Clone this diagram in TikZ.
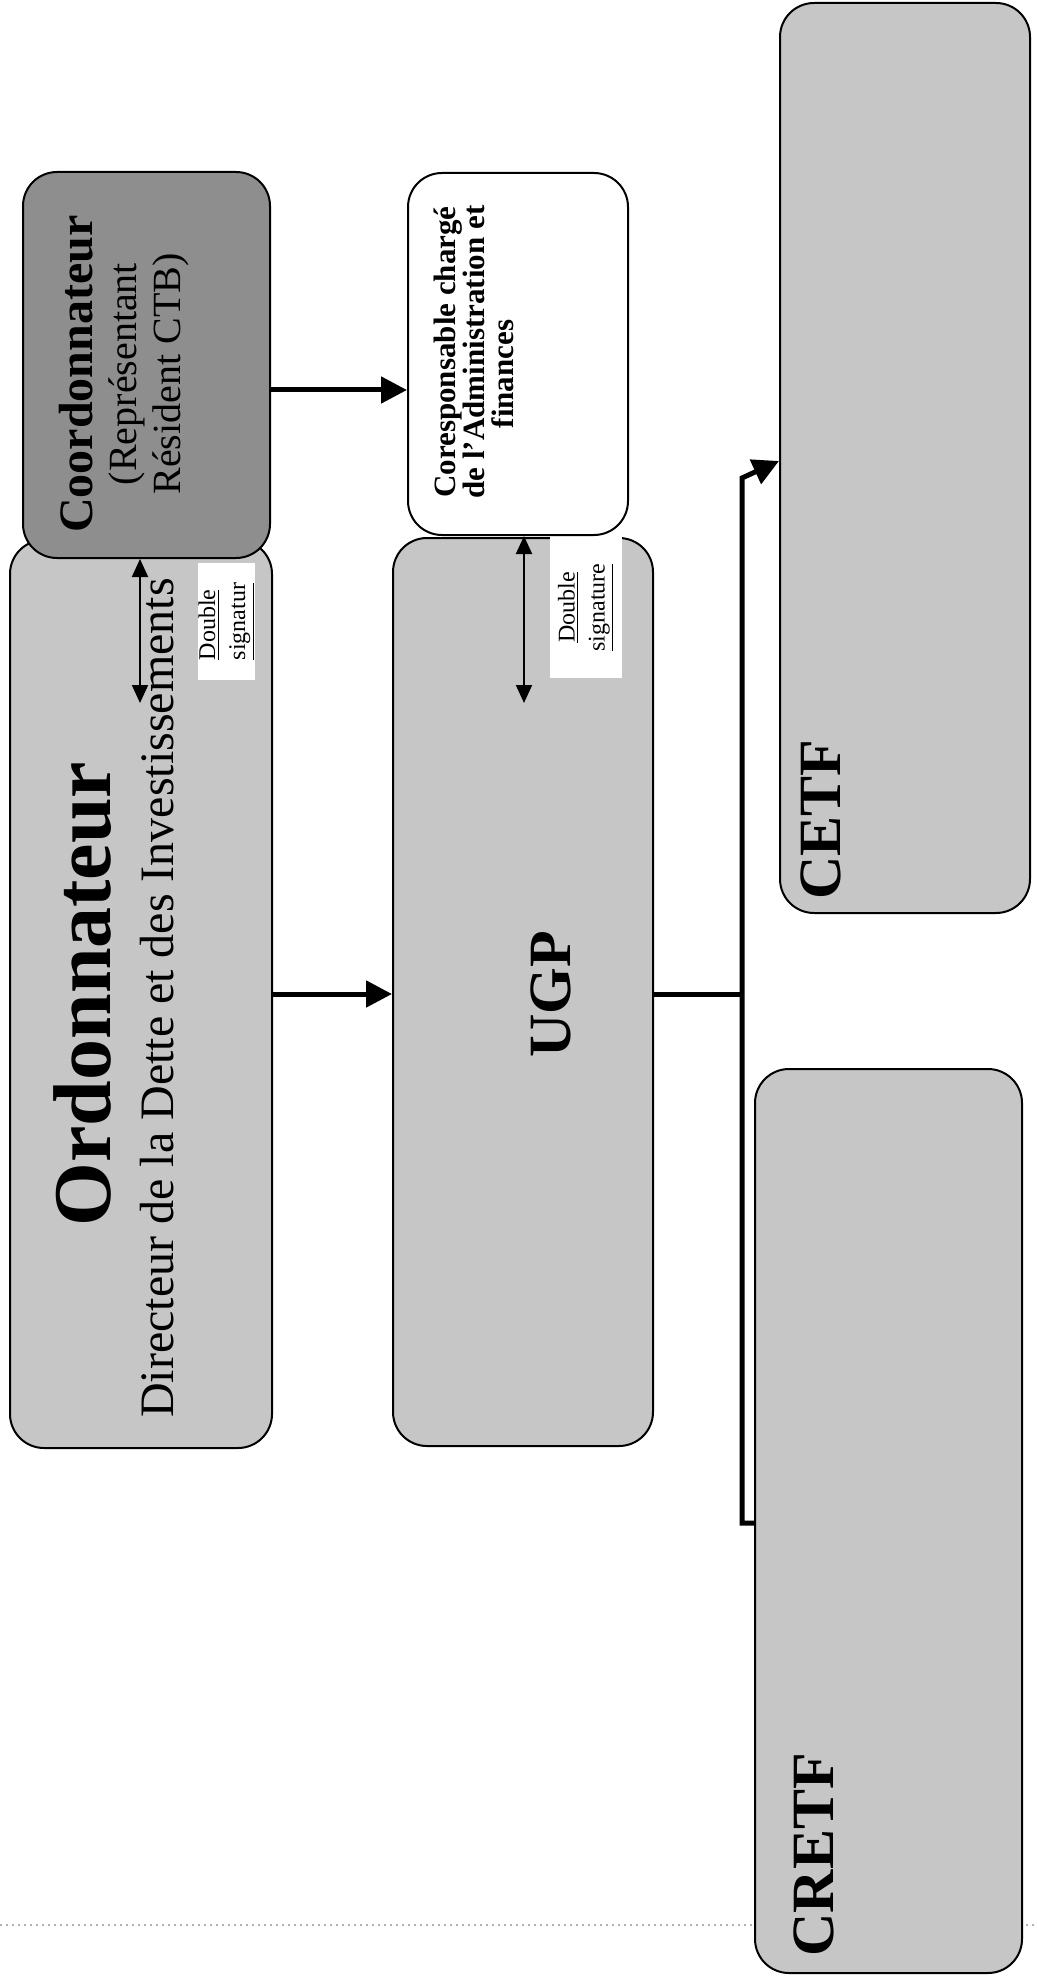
\documentclass[tikz,border=0pt]{standalone}
\usepackage{fontspec}
\setmainfont{Liberation Serif}
\usetikzlibrary{positioning,arrows.meta,calc}
\definecolor{ink}{HTML}{000000}
\definecolor{shade}{HTML}{C6C6C6}
\definecolor{darkshade}{HTML}{8E8E8E}
\definecolor{scanline}{HTML}{B0B0B0}
\newcommand{\pxu}{0.5pt}

\begin{document}
\begin{tikzpicture}[
  x=\pxu, y=-\pxu,
  box/.style={draw=ink, line width=1pt, rounded corners=17pt, fill=shade, inner sep=0pt},
  flow/.style={-{Triangle[length=13pt,width=13pt]}, line width=2.5pt, draw=ink},
  link/.style={line width=2.5pt, draw=ink},
  dsig/.style={{Triangle[length=9pt,width=8pt]}-{Triangle[length=9pt,width=8pt]}, line width=1pt, draw=ink},
  sig/.style={fill=white, inner sep=0pt, rotate=90, font=\fontsize{12}{15}\selectfont},
  upr/.style={rotate=90, inner sep=0pt, text=ink},
]
\useasboundingbox (0,0) rectangle (1037,1984);

% faint rule left by the scan
\draw[scanline, dotted, line width=1pt] (0,1925) -- (1037,1925);

% ---- Boxes ------------------------------------------------------------------
\node[box, minimum width=131pt, minimum height=454pt] (ord) at (141,994) {};
\node[box, fill=darkshade, minimum width=123.5pt, minimum height=193pt] (coord) at (146.5,365) {};
\node[box, fill=white, minimum width=110pt, minimum height=181pt] (coresp) at (518,354) {};
\node[box, minimum width=130pt, minimum height=454pt] (ugp) at (523,992) {};
\node[box, minimum width=125pt, minimum height=455pt] (cetf) at (905,458) {};
\node[box, minimum width=133.5pt, minimum height=452pt] (cretf) at (888.5,1521) {};

% ---- Texts (rotated, read bottom to top) ------------------------------------
\node[upr, anchor=base, font=\fontsize{41}{44}\selectfont\bfseries] (ordname) at (110,994) {Ordonnateur};
\node[upr, anchor=base, font=\fontsize{24}{26}\selectfont] (ordrole) at (173,998)
  {Directeur de la Dette et des Investissements};
\node[upr, anchor=north, align=center, font=\fontsize{20}{22}\selectfont] (coordname) at (59,374)
  {{\fontsize{24}{24}\selectfont\bfseries Coordonnateur}\\(Représentant\\Résident CTB)};
\node[upr, anchor=north, align=center, font=\fontsize{15.5}{14.5}\selectfont\bfseries] (corespname) at (434,352)
  {Coresponsable chargé\\de l’Administration et\\finances\hspace*{22pt}};
\node[upr, anchor=base, font=\fontsize{30}{32}\selectfont\bfseries] (ugpname) at (570,994) {UGP};
\node[upr, anchor=base west, font=\fontsize{30}{32}\selectfont\bfseries] (cetfname) at (840,900) {CETF};
\node[upr, anchor=base west, font=\fontsize{30}{32}\selectfont\bfseries] (cretfname) at (833,1957) {CRETF};

% ---- Double signature -------------------------------------------------------
\node[sig, align=left, minimum width=58.5pt, minimum height=28.5pt] (sigA) at (226.5,621.5)
  {\underline{Double}\\\underline{signatur}};
\node[sig, align=center, minimum width=70.5pt, minimum height=36pt] (sigB) at (586,607.5)
  {\underline{Double}\\\underline{signature}};

\coordinate (dsA) at (140,703);
\coordinate (dsB) at (524,703);
\draw[dsig] (coord.south -| dsA) -- (dsA);
\draw[dsig] (coresp.south -| dsB) -- (dsB);

% ---- Arrows -----------------------------------------------------------------
\coordinate (rowA) at (0,390);
\draw[flow] (coord.east |- rowA) -- (coresp.west |- rowA);
\draw[flow] (ord.east) -- (ugp.west |- ord.east);

\coordinate (fork) at (742,994);
\coordinate (foot) at (742,1523);
\coordinate (head) at (742,478);
\coordinate (tip) at (0,461);
\draw[link] (ugp.east |- fork) -- (fork);
\draw[flow] (cretf.west |- foot) -- (foot) -- (head) -- (cetf.west |- tip);

\end{tikzpicture}
\end{document}
